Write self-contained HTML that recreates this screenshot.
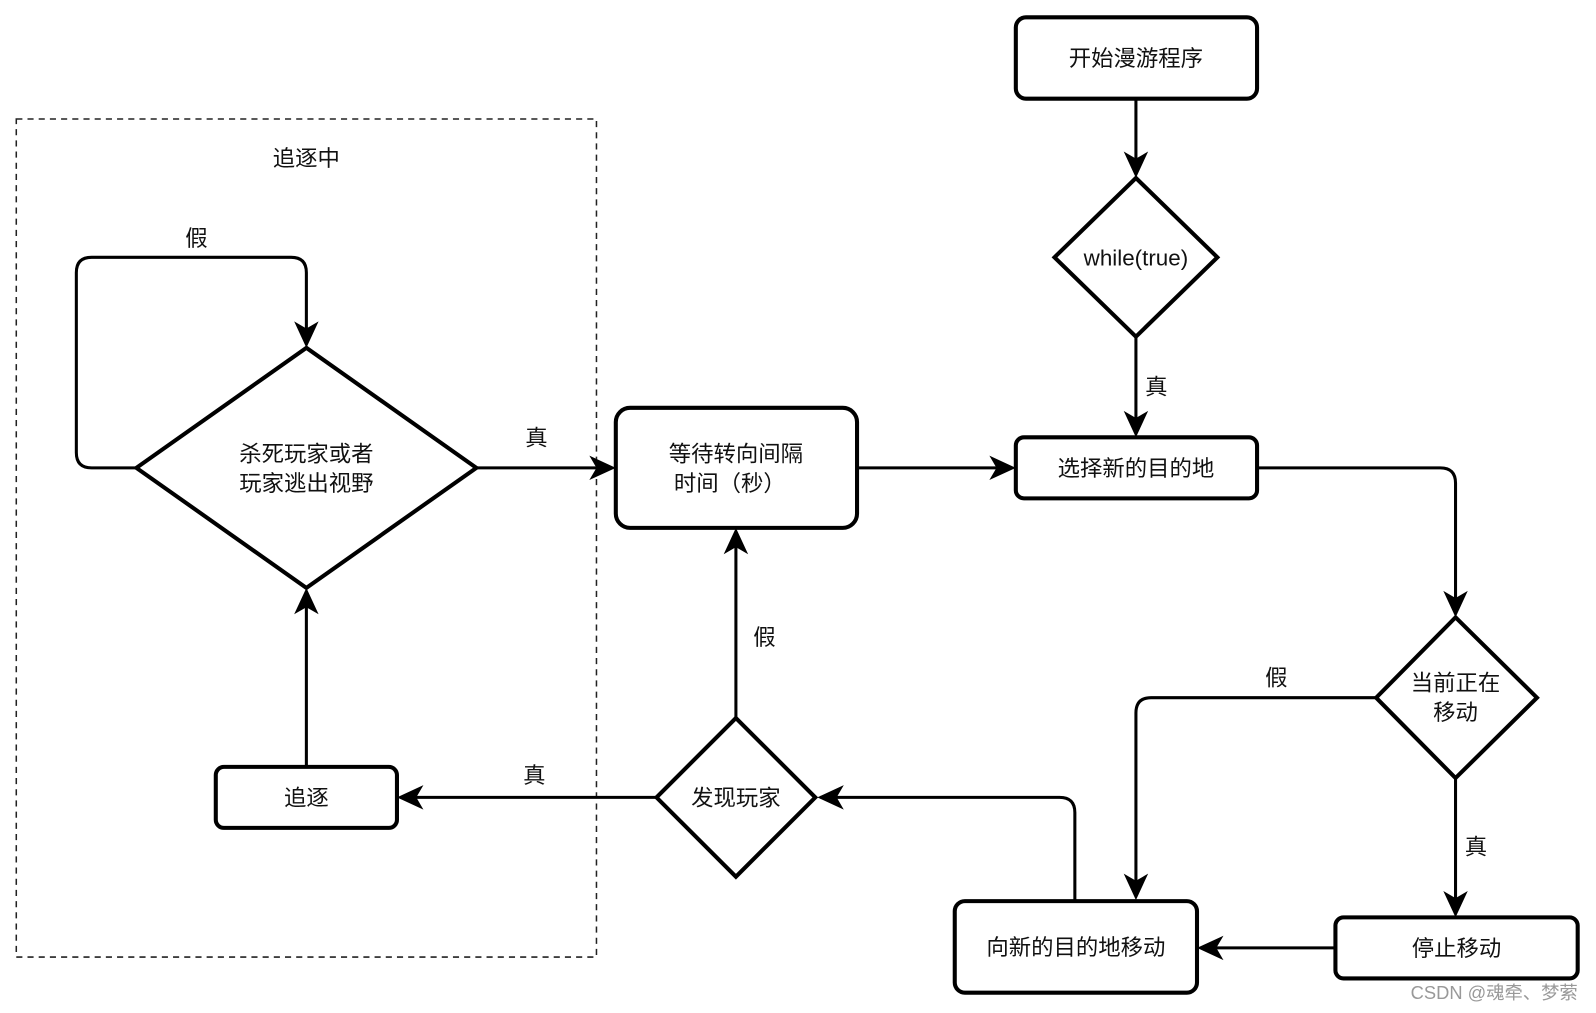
<!DOCTYPE html>
<html><head><meta charset="utf-8"><style>
html,body{margin:0;padding:0;background:#fff;width:1596px;height:1013px;overflow:hidden}
svg text{font-family:"Liberation Sans","Noto Sans CJK SC",sans-serif;font-size:22px;fill:#111}
</style></head><body>
<svg width="1596" height="1013" viewBox="0 0 1568 996" preserveAspectRatio="none" xmlns="http://www.w3.org/2000/svg">
<defs>
<marker id="a" viewBox="0 0 10 10" refX="9" refY="5" markerWidth="7" markerHeight="7" markerUnits="userSpaceOnUse" orient="auto" style="overflow:visible">
<path d="M0,0 L10,5 L0,10 L3,5 Z" fill="#000" transform="scale(2.2) translate(-5.5,-2.7)"/>
</marker>
</defs>
<g fill="#fff" stroke="#000" stroke-width="4">
<rect x="998" y="17" width="237" height="80" rx="10"/>
<rect x="998" y="430" width="237" height="60" rx="8"/>
<rect x="605" y="401" width="237" height="118" rx="14"/>
<rect x="212" y="754" width="178" height="60" rx="8"/>
<rect x="938" y="886" width="238" height="90" rx="10"/>
<rect x="1312" y="902" width="238" height="60" rx="8"/>
<polygon points="1116,175 1196,253 1116,331 1036,253"/>
<polygon points="1430,607 1510,686 1430,765 1352,686"/>
<polygon points="723,706 801,784 723,862 645,784"/>
<polygon points="301,342 468,460 301,578 134,460"/>
</g>
<rect x="16" y="117" width="570" height="824" fill="none" stroke="#222" stroke-width="1.5" stroke-dasharray="6,5"/>
<g fill="none" stroke="#000" stroke-width="3" stroke-linejoin="round">
<path d="M1116,97 V171"/><path d="M1116,331 V426"/>
<path d="M1235,460 H1415 Q1430,460 1430,475 V603"/>
<path d="M1352,686 H1131 Q1116,686 1116,701 V881"/>
<path d="M1430,765 V898"/>
<path d="M1312,932 H1181"/>
<path d="M1056,886 V799 Q1056,784 1041,784 H806"/>
<path d="M723,706 V523"/>
<path d="M842,460 H994"/>
<path d="M645,784 H394"/>
<path d="M301,754 V582"/>
<path d="M468,460 H601"/>
<path d="M134,460 H90 Q75,460 75,445 V268 Q75,253 90,253 H286 Q301,253 301,268 V338"/>
</g>
<g fill="#000">
<polygon points="1116,175 1104,149 1116,156 1128,149"/>
<polygon points="1116,430 1104,404 1116,411 1128,404"/>
<polygon points="1430,607 1418,581 1430,588 1442,581"/>
<polygon points="1116,885 1104,859 1116,866 1128,859"/>
<polygon points="1430,902 1418,876 1430,883 1442,876"/>
<polygon points="1176,932 1202,920 1195,932 1202,944"/>
<polygon points="803,784 829,772 822,784 829,796"/>
<polygon points="723,519 711,545 723,538 735,545"/>
<polygon points="998,460 972,448 979,460 972,472"/>
<polygon points="390,784 416,772 409,784 416,796"/>
<polygon points="301,578 289,604 301,597 313,604"/>
<polygon points="605,460 579,448 586,460 579,472"/>
<polygon points="301,342 289,316 301,323 313,316"/>
</g>
<g text-anchor="middle">
<text x="1116" y="65">开始漫游程序</text>
<text x="1116" y="261">while(true)</text>
<text x="1136" y="388">真</text>
<text x="1116" y="468">选择新的目的地</text>
<text x="1430" y="679">当前正在</text>
<text x="1430" y="708">移动</text>
<text x="1254" y="674">假</text>
<text x="1450" y="840">真</text>
<text x="1431" y="940">停止移动</text>
<text x="1057" y="939">向新的目的地移动</text>
<text x="723" y="792">发现玩家</text>
<text x="751" y="634">假</text>
<text x="723" y="454">等待转向间隔</text>
<text x="717" y="483">时间（秒）</text>
<text x="525" y="770">真</text>
<text x="301" y="792">追逐</text>
<text x="301" y="454">杀死玩家或者</text>
<text x="301" y="483">玩家逃出视野</text>
<text x="527" y="438">真</text>
<text x="193" y="242">假</text>
<text x="301" y="163">追逐中</text>
<text x="1468" y="982" style="font-size:18px;fill:#999">CSDN @魂牵、梦萦</text>
</g>
</svg>
</body></html>
